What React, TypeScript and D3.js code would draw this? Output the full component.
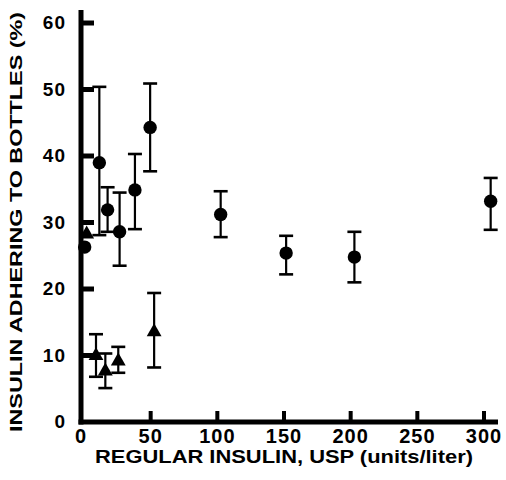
import React from "react";
import * as d3 from "d3";

const xTicks = [0, 50, 100, 150, 200, 250, 300];
const yTicks = [0, 10, 20, 30, 40, 50, 60];

// circles: insulin concentration, % adhering, error low, error high
const circleX = [0.5, 11.5, 17.7, 26.7, 38.2, 49.6, 102.5, 151.6, 202.8, 305];
const circleY = [26.3, 39.0, 31.9, 28.6, 34.9, 44.3, 31.2, 25.4, 24.8, 33.2];
const circleLo = [null, 28.1, 28.6, 23.5, 29.0, 37.7, 27.8, 22.2, 21.0, 28.9];
const circleHi = [null, 50.4, 35.3, 34.5, 40.3, 50.9, 34.7, 28.0, 28.6, 36.7];

const triX = [2, 9, 16, 25.7, 52.6];
const triY = [28.4, 10.1, 7.8, 9.3, 13.7];
const triLo = [null, 6.8, 5.1, 7.4, 8.2];
const triHi = [null, 13.2, 10.3, 11.3, 19.4];

const xLabel = "REGULAR INSULIN, USP (units/liter)";
const yLabel = "INSULIN ADHERING TO BOTTLES (%)";

const W = 506;
const H = 480;
const FONT = "'Liberation Sans', Arial, Helvetica, sans-serif";

export default function App() {
  const x = d3.scaleLinear().domain([0, 300]).range([84, 484]);
  const y = d3.scaleLinear().domain([0, 60]).range([422, 23]);
  const axX = x(0) - 3;
  const axY = y(0);
  const tri = d3.symbol().type(d3.symbolTriangle).size(95);

  const errBar = (cx: number, lo: number | null, hi: number | null, key: string) => {
    if (lo == null || hi == null) return null;
    const cw = 7;
    return (
      <g key={key} stroke="#000" fill="none">
        <line x1={cx} x2={cx} y1={y(lo)} y2={y(hi)} strokeWidth={2.2} />
        <line x1={cx - cw} x2={cx + cw} y1={y(lo)} y2={y(lo)} strokeWidth={2.6} />
        <line x1={cx - cw} x2={cx + cw} y1={y(hi)} y2={y(hi)} strokeWidth={2.6} />
      </g>
    );
  };

  return (
    <div style={{ position: "absolute", left: 0, top: 0 }}>
      <svg width={W} height={H} style={{ display: "block", background: "#fff" }}>
        {/* error bars */}
        {circleX.map((v, i) => errBar(x(v), circleLo[i], circleHi[i], "ce" + i))}
        {triX.map((v, i) => errBar(x(v), triLo[i], triHi[i], "te" + i))}

        {/* markers */}
        {circleX.map((v, i) => (
          <circle key={"c" + i} cx={x(v)} cy={y(circleY[i])} r={6.7} fill="#000" />
        ))}
        {triX.map((v, i) => (
          <path key={"t" + i} d={tri() as string} transform={`translate(${x(v)},${y(triY[i]) + 1})`} fill="#000" />
        ))}

        {/* axes */}
        <line x1={axX} x2={axX} y1={10} y2={axY + 2.5} stroke="#000" strokeWidth={5} />
        <line x1={axX - 2.5} x2={498} y1={axY} y2={axY} stroke="#000" strokeWidth={5} />
        {xTicks.slice(1).map((t) => (
          <line key={"xt" + t} x1={x(t)} x2={x(t)} y1={axY} y2={axY - 11} stroke="#000" strokeWidth={4} />
        ))}
        {yTicks.slice(1).map((t) => (
          <line key={"yt" + t} x1={axX} x2={axX + 13} y1={y(t)} y2={y(t)} stroke="#000" strokeWidth={5} />
        ))}
        {xTicks.map((t) => (
          <text key={"xl" + t} x={x(t) - (t === 0 ? 3 : 0)} y={443} textAnchor="middle" fontFamily={FONT}
            fontWeight="bold" fontSize={20} letterSpacing={1}>{t}</text>
        ))}
        {yTicks.map((t) => (
          <text key={"yl" + t} x={66} y={y(t) + 6} textAnchor="end" fontFamily={FONT}
            fontWeight="bold" fontSize={19} letterSpacing={1}>{t}</text>
        ))}
        <text x={284} y={463} textAnchor="middle" fontFamily={FONT} fontWeight="bold" fontSize={19}
          textLength={378} lengthAdjust="spacingAndGlyphs">{xLabel}</text>
        <text transform={`translate(22,222) rotate(-90)`} textAnchor="middle" fontFamily={FONT}
          fontWeight="bold" fontSize={17} textLength={420} lengthAdjust="spacingAndGlyphs">{yLabel}</text>
      </svg>
    </div>
  );
}
